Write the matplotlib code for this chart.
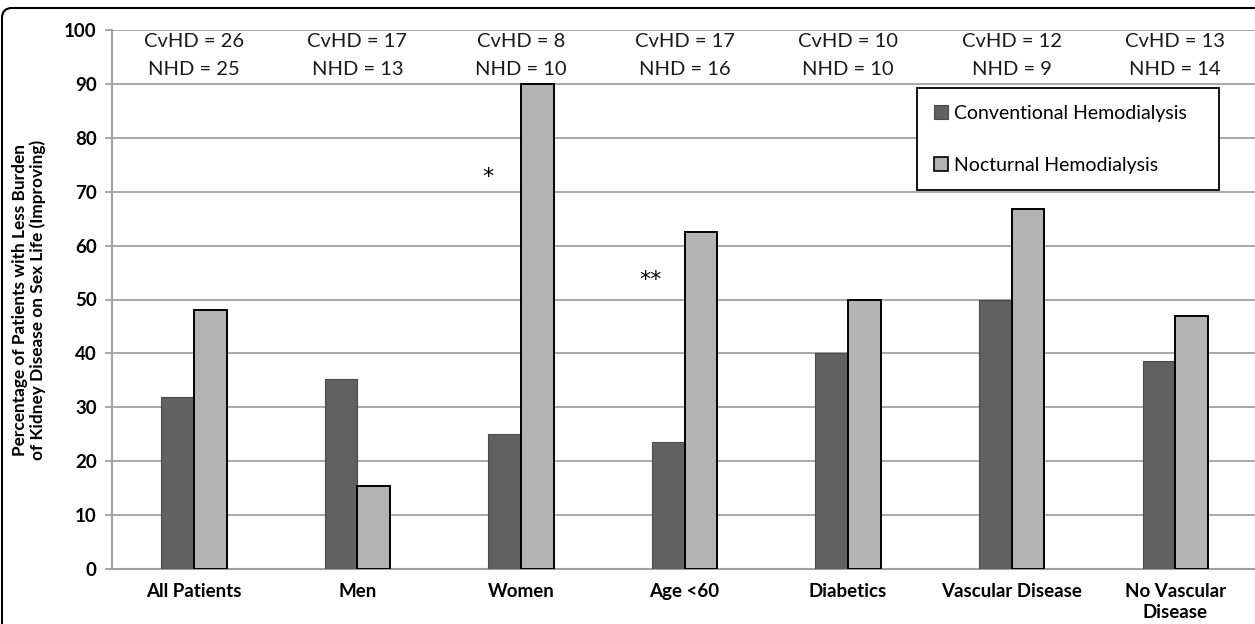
import numpy as np
import matplotlib
matplotlib.use('Agg')
from matplotlib import pyplot as plt
from matplotlib.patches import FancyBboxPatch, Patch
from matplotlib.transforms import IdentityTransform

categories = ['All Patients', 'Men', 'Women', 'Age <60', 'Diabetics',
              'Vascular Disease', 'No Vascular\nDisease']
cvhd = [32, 35.3, 25, 23.5, 40, 50, 38.5]
nhd = [48, 15.4, 90, 62.5, 50, 66.7, 47]
cvhd_n = [26, 17, 8, 17, 10, 12, 13]
nhd_n = [25, 13, 10, 16, 10, 9, 14]

plt.rcParams['font.family'] = ['Lato', 'DejaVu Sans']

W, H = 1255, 624
fig = plt.figure(figsize=(W / 100, H / 100), dpi=100)
ax = fig.add_axes([112 / W, (H - 569) / H, 1145 / W, 539 / H])

x = np.arange(len(categories))
w = 0.2
dark = '#616161'
light = '#b3b3b3'

ax.bar(x - w / 2, cvhd, w, color=dark, edgecolor='#4a4a4a', linewidth=0.8, zorder=3)
ax.bar(x + w / 2, nhd, w, color=light, edgecolor='black', linewidth=1.4, zorder=3)

ax.set_xlim(-0.5, len(categories) - 0.5)
ax.set_ylim(0, 100)
ax.set_yticks(range(0, 101, 10))
ax.yaxis.grid(True, color='#a8a8a8', linewidth=1.4, zorder=0)
ax.set_axisbelow(True)

for s in ['top', 'right']:
    ax.spines[s].set_visible(False)
for s in ['left', 'bottom']:
    ax.spines[s].set_color('#a0a0a0')
    ax.spines[s].set_linewidth(1.5)

ax.set_xticks(x)
ax.set_xticklabels(categories, fontsize=13.5, fontweight='bold', linespacing=1.3)
ax.tick_params(axis='x', length=0, pad=10)
ax.tick_params(axis='y', length=5, width=1.3, color='#a0a0a0', labelsize=13.5, pad=6)
for lbl in ax.get_yticklabels():
    lbl.set_fontweight('bold')

# sample sizes above each group
for i in range(len(categories)):
    ax.text(x[i], 97.9, 'CvHD = %d' % cvhd_n[i], ha='center', va='center', fontsize=14.5, color='#1a1a1a')
    ax.text(x[i], 92.6, 'NHD = %d' % nhd_n[i], ha='center', va='center', fontsize=14.5, color='#1a1a1a')

# significance marks
ax.text(1.8, 72.8, '*', ha='center', va='center', fontsize=16, family='DejaVu Sans')
ax.text(2.79, 53.6, '**', ha='center', va='center', fontsize=16, family='DejaVu Sans')

fig.text(29 / W, (H - 300) / H,
         'Percentage of Patients with Less Burden\nof Kidney Disease on Sex Life (Improving)',
         rotation=90, ha='center', va='center', fontsize=12.4, fontweight='bold',
         linespacing=1.1)

handles = [Patch(facecolor=dark, edgecolor='#4a4a4a', linewidth=0.8),
           Patch(facecolor=light, edgecolor='black', linewidth=1.2)]
leg = ax.legend(handles, ['Conventional Hemodialysis', 'Nocturnal Hemodialysis'],
                loc='upper left', bbox_to_anchor=((917 - 112) / 1145, (569 - 88) / 539, 302 / 1145, 0),
                mode='expand', fontsize=14, frameon=True, fancybox=False,
                framealpha=1, edgecolor='black', borderpad=0.85, labelspacing=1.8,
                handlelength=0.75, handleheight=0.75, handletextpad=0.3, borderaxespad=0)
leg.get_frame().set_linewidth(1.3)
leg.set_zorder(5)

# outer rounded border of the figure
border = FancyBboxPatch((2, -40), 1320, H - 8 + 40, boxstyle='round,pad=0,rounding_size=10',
                        transform=IdentityTransform(), facecolor='none', edgecolor='black',
                        linewidth=1.5)
fig.patches.append(border)

fig.savefig('out.png', dpi=100)
